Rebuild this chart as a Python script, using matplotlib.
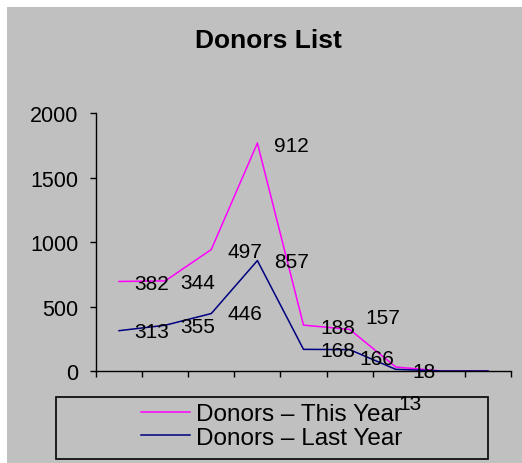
"""
Donors List - stacked line chart (Excel style)
"""
import matplotlib
matplotlib.use('Agg')
import matplotlib.pyplot as plt
from matplotlib import rcParams
from matplotlib.patches import Rectangle
import numpy as np

rcParams['font.family'] = ['Liberation Sans', 'DejaVu Sans']

# data (last two months empty -> plotted as 0, no label)
months = list(range(9))
this_year = [382, 344, 497, 912, 188, 157, 18, None, None]
last_year = [313, 355, 446, 857, 168, 166, 13, None, None]
y_ticks = [0, 500, 1000, 1500, 2000]

GRAY = '#C0C0C0'
MAGENTA = '#FF00FF'
NAVY = '#000080'

# label offsets in pixels (Excel placed them a bit to the right)
off_this = [(33, 0), (33, 0), (34, 0), (34, 0), (34, 0), (33, 14), (28, -2)]
off_last = [(33, 1), (33, 1), (34, 2), (34, 1), (34, 1), (27, -7), (14, -32)]

last = np.array([v if v is not None else 0 for v in last_year], dtype=float)
this = np.array([v if v is not None else 0 for v in this_year], dtype=float)
top = last + this

fig = plt.figure(figsize=(5.22, 4.64), dpi=100, facecolor='white')
# chart area background
fig.patches.append(Rectangle((7 / 522, 0), 1, 1 - 8 / 464, transform=fig.transFigure,
                             fc=GRAY, ec='none', zorder=-10))

ax = fig.add_axes([96 / 522, (464 - 372) / 464, (511 - 96) / 522, (372 - 114.3) / 464])
ax.set_facecolor(GRAY)

ax.plot(months, top, color=MAGENTA, lw=1.1, label='Donors \u2013 This Year')
ax.plot(months, last, color=NAVY, lw=1.1, label='Donors \u2013 Last Year')

for i, v in enumerate(this_year):
    if v is None:
        continue
    ax.annotate(str(v), (months[i], top[i]), xytext=off_this[i], textcoords='offset pixels',
                ha='center', va='center_baseline', fontsize=15, annotation_clip=False)
for i, v in enumerate(last_year):
    if v is None:
        continue
    ax.annotate(str(v), (months[i], last[i]), xytext=off_last[i], textcoords='offset pixels',
                ha='center', va='center_baseline', fontsize=15, annotation_clip=False)

ax.set_xlim(-0.5, 8.5)
ax.set_ylim(0, 2000)
ax.set_yticks(y_ticks)
ax.set_xticks(np.arange(-0.5, 9, 1))
ax.set_xticklabels([])
ax.tick_params(axis='y', direction='out', length=4.3, width=1, labelsize=15.5, pad=8.5)
ax.tick_params(axis='x', direction='out', length=4.3, width=1)
for s in ['top', 'right']:
    ax.spines[s].set_visible(False)
for s in ['left', 'bottom']:
    ax.spines[s].set_linewidth(1)

fig.text(268 / 522, 1 - 41 / 464, 'Donors List', ha='center', va='center',
         fontsize=19, fontweight='bold')

# legend box
fig.patches.append(Rectangle((56 / 522, (464 - 460) / 464), (488 - 56) / 522, 62 / 464,
                             transform=fig.transFigure, fc=GRAY, ec='black', lw=1.2, zorder=-5))
fig.legend(loc='center', bbox_to_anchor=(272 / 522, 1 - 427 / 464), frameon=False,
           fontsize=17.5, handlelength=2.0, handletextpad=0.26, labelspacing=0.08,
           borderpad=0)

fig.savefig('out.png', dpi=100, facecolor=fig.get_facecolor())
print('[SAVE] out.png')
